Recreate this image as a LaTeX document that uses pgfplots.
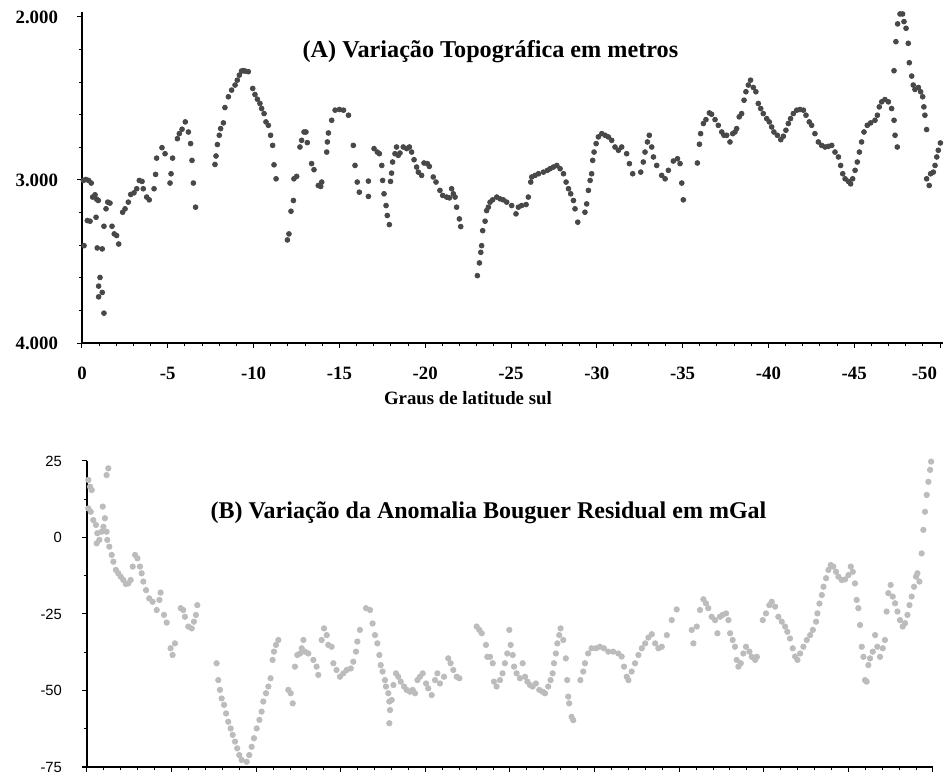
\documentclass[border=0pt]{standalone}
\usepackage{pgfplots}
\pgfplotsset{compat=1.18}
\usepackage{fontspec}
\setmainfont{Liberation Serif}
\newfontfamily\arialfont{Liberation Sans}
\definecolor{topdot}{RGB}{72,72,72}
\definecolor{botdot}{RGB}{188,188,188}
\begin{document}
\begin{tikzpicture}
\path[use as bounding box] (0pt,0pt) rectangle (472pt,-387.5pt);
% ---------------- Panel A ----------------
\begin{axis}[
  at={(41pt,-171.5pt)}, anchor=south west,
  scale only axis, width=430.3pt, height=165.5pt,
  xmin=-50.15, xmax=0, x dir=reverse,
  ymin=1970, ymax=4000, y dir=reverse,
  axis x line*=bottom, axis y line*=left,
  axis line style={line width=1pt,-},
  tick align=outside,
  major tick length=2.5pt, minor tick length=1.5pt,
  tick style={black, line width=0.5pt},
  xtick={0,-5,-10,-15,-20,-25,-30,-35,-40,-45,-50},
  xticklabels={0,-5,-10,-15,-20,-25,-30,-35,-40,-45,{\hbox to 0pt{\hss -50\hskip1.5pt}}},
  ytick={2000,3000,4000},
  yticklabels={{\raisebox{-3pt}{2.000}},3.000,4.000},
  minor x tick num=4, minor y tick num=4,
  ticklabel style={font=\fontsize{9.4}{11}\selectfont\bfseries},
  xticklabel style={yshift=-6pt},
  yticklabel style={xshift=-6pt},
  clip=false,
]
\addplot[only marks, color=topdot, mark=*, mark size=1.2pt, mark options={solid, draw=topdot, fill=topdot}] coordinates {
(-0.08,3003)(-0.23,2997)(-0.39,3003)(-0.54,3019)(-0.12,3403)(-0.31,3249)(-0.47,3253)(-0.62,3105)
(-0.76,3091)(-0.85,3118)(-0.95,3126)(-0.82,3229)(-0.89,3417)(-1.18,3423)(-1.05,3598)(-0.97,3651)
(-1.18,3690)(-0.97,3717)(-1.28,3817)(-1.28,3284)(-1.40,3177)(-1.50,3136)(-1.63,3142)(-1.75,3284)
(-1.88,3331)(-2.02,3341)(-2.14,3393)(-2.37,3198)(-2.51,3177)(-2.70,3136)(-2.84,3089)(-3.03,3079)
(-3.19,3054)(-3.34,3003)(-3.50,3009)(-3.57,3054)(-3.77,3105)(-3.92,3122)(-4.20,3054)(-4.29,2966)
(-4.35,2866)(-4.66,2802)(-4.84,2839)(-5.13,3019)(-5.19,2962)(-5.28,2866)(-5.56,2747)(-5.67,2716)
(-5.83,2689)(-6.02,2644)(-6.20,2706)(-6.33,2777)(-6.41,2880)(-6.49,3019)(-6.62,3167)(-7.75,2905)
(-7.81,2853)(-7.89,2783)(-8.00,2726)(-8.08,2685)(-8.24,2650)(-8.33,2556)(-8.53,2490)(-8.72,2449)
(-8.92,2418)(-9.05,2388)(-9.17,2357)(-9.30,2332)(-9.40,2330)(-9.50,2332)(-9.69,2336)(-9.95,2439)
(-10.08,2476)(-10.22,2505)(-10.37,2531)(-10.47,2562)(-10.61,2593)(-10.72,2644)(-10.86,2665)(-10.99,2726)
(-11.11,2788)(-11.19,2907)(-11.31,2993)(-11.97,3368)(-12.06,3331)(-12.18,3192)(-12.32,3126)(-12.35,2993)
(-12.51,2978)(-12.70,2798)(-12.80,2757)(-12.94,2706)(-13.05,2706)(-13.13,2771)(-13.38,2900)(-13.52,2937)
(-13.77,3034)(-13.91,3040)(-13.97,3013)(-14.26,2829)(-14.30,2767)(-14.36,2712)(-14.55,2634)(-14.75,2572)
(-15.00,2568)(-15.24,2572)(-15.53,2603)(-15.81,2788)(-15.91,2911)(-16.04,3013)(-16.16,3075)(-16.69,3101)
(-16.69,3007)(-17.02,2808)(-17.21,2829)(-17.33,2839)(-17.47,2911)(-17.52,3003)(-17.60,3085)(-17.72,3157)
(-17.79,3218)(-17.91,3274)(-17.98,3009)(-18.04,2958)(-18.10,2890)(-18.24,2839)(-18.33,2798)(-18.43,2849)
(-18.53,2835)(-18.72,2798)(-18.92,2808)(-19.08,2798)(-19.21,2829)(-19.35,2876)(-19.50,2921)(-19.60,2952)
(-19.79,2972)(-19.93,2896)(-20.13,2900)(-20.24,2917)(-20.47,2982)(-20.63,3013)(-20.86,3064)(-21.02,3095)
(-21.25,3105)(-21.41,3110)(-21.54,3054)(-21.64,3085)(-21.74,3105)(-21.83,3167)(-21.99,3239)(-22.07,3286)
(-23.04,3587)(-23.16,3509)(-23.24,3444)(-23.29,3403)(-23.35,3311)(-23.49,3253)(-23.58,3188)(-23.68,3167)
(-23.78,3136)(-23.93,3122)(-24.17,3105)(-24.36,3116)(-24.55,3122)(-24.75,3136)(-25.04,3157)(-25.29,3208)
(-25.43,3167)(-25.62,3157)(-25.88,3151)(-26.01,3105)(-26.15,3013)(-26.21,2982)(-26.40,2972)(-26.60,2962)
(-26.89,2952)(-27.12,2941)(-27.28,2931)(-27.47,2921)(-27.67,2911)(-27.86,2931)(-28.06,2962)(-28.21,3013)
(-28.35,3054)(-28.48,3085)(-28.64,3126)(-28.73,3177)(-28.89,3259)(-29.31,3198)(-29.41,3147)(-29.51,3064)
(-29.61,3003)(-29.70,2962)(-29.76,2880)(-29.84,2829)(-29.96,2777)(-30.09,2736)(-30.29,2716)(-30.48,2726)
(-30.67,2736)(-30.87,2757)(-31.06,2798)(-31.26,2818)(-31.45,2798)(-31.74,2839)(-31.90,2900)(-32.09,2962)
(-32.56,2952)(-32.71,2890)(-32.81,2829)(-32.95,2767)(-33.06,2726)(-33.20,2798)(-33.30,2859)(-33.49,2911)
(-33.78,2972)(-33.98,2993)(-34.17,2941)(-34.46,2884)(-34.70,2870)(-34.85,2900)(-34.95,3019)(-35.04,3122)
(-35.86,2896)(-35.98,2781)(-36.05,2716)(-36.21,2654)(-36.36,2630)(-36.56,2589)(-36.69,2597)(-36.89,2630)
(-37.08,2665)(-37.28,2706)(-37.41,2726)(-37.57,2726)(-37.76,2767)(-37.92,2716)(-38.05,2706)(-38.15,2685)
(-38.30,2613)(-38.44,2593)(-38.58,2511)(-38.69,2459)(-38.83,2418)(-38.96,2388)(-39.12,2433)(-39.27,2459)
(-39.41,2531)(-39.55,2562)(-39.70,2593)(-39.90,2624)(-40.05,2644)(-40.19,2675)(-40.32,2706)(-40.52,2726)
(-40.72,2753)(-40.87,2732)(-41.02,2695)(-41.16,2654)(-41.29,2624)(-41.45,2593)(-41.65,2572)(-41.84,2568)
(-42.04,2572)(-42.19,2603)(-42.38,2644)(-42.52,2665)(-42.71,2716)(-42.91,2767)(-43.10,2788)(-43.30,2798)
(-43.49,2794)(-43.69,2788)(-43.88,2829)(-44.08,2859)(-44.21,2911)(-44.33,2962)(-44.47,2993)(-44.66,3009)
(-44.79,3024)(-44.91,2993)(-45.05,2941)(-45.18,2890)(-45.30,2829)(-45.43,2767)(-45.57,2706)(-45.76,2665)
(-45.96,2650)(-46.21,2634)(-46.35,2603)(-46.46,2552)(-46.60,2521)(-46.79,2507)(-46.99,2521)(-47.18,2562)
(-47.32,2634)(-47.38,2726)(-47.51,2798)(-47.32,2330)(-47.43,2152)(-47.53,2043)(-47.67,1982)(-47.82,1982)
(-47.90,2029)(-48.02,2070)(-48.15,2162)(-48.21,2281)(-48.35,2363)(-48.44,2418)(-48.54,2445)(-48.74,2433)
(-48.87,2459)(-48.99,2490)(-49.06,2552)(-49.12,2603)(-49.22,2691)(-49.22,2993)(-49.37,3034)(-49.45,2962)
(-49.61,2952)(-49.71,2911)(-49.81,2859)(-49.90,2818)(-50.02,2773)
};
\node[font=\fontsize{12.1}{14}\selectfont\bfseries] at (axis cs:-23.8,2215) {(A) Variação Topográfica em metros};
\node[font=\fontsize{9.4}{11}\selectfont\bfseries] at (axis cs:-22.49,4000) [yshift=-27.5pt] {Graus de latitude sul};
\end{axis}
% ---------------- Panel B ----------------
\begin{axis}[
  at={(43.5pt,-383.5pt)}, anchor=south west,
  scale only axis, width=423pt, height=153pt,
  xmin=-50, xmax=0, x dir=reverse,
  ymin=-75, ymax=25,
  axis x line*=bottom, axis y line*=left,
  axis line style={line width=1pt,-},
  tick align=outside,
  major tick length=2.5pt, minor tick length=1.5pt,
  tick style={black, line width=0.5pt},
  xtick={0,-5,-10,-15,-20,-25,-30,-35,-40,-45,-50},
  xticklabels={},
  ytick={25,0,-25,-50,-75},
  yticklabels={25,0,-25,-50,-75},
  minor x tick num=4, minor y tick num=1,
  yticklabel style={font=\arialfont\fontsize{7.4}{9}\selectfont, xshift=-6.5pt},
  clip=false,
]
\addplot[only marks, color=botdot, mark=*, mark size=1.35pt, mark options={solid, draw=botdot, fill=botdot}] coordinates {
(-0.08,18.8)(-0.18,16.6)(-0.28,15.5)(-0.08,9.5)(-0.22,8.4)(-0.37,5.7)(-0.53,4.1)(-0.61,1.4)
(-0.57,-1.9)(-0.73,-0.8)(-0.87,1.9)(-0.97,3.5)(-0.93,10.1)(-1.06,6.3)(-1.16,1.9)(-1.20,-0.8)
(-1.16,20.4)(-1.26,22.6)(-1.32,-3.0)(-1.46,-5.7)(-1.56,-7.9)(-1.71,-10.6)(-1.85,-11.7)(-1.99,-12.8)
(-2.15,-13.9)(-2.30,-15.2)(-2.44,-15.0)(-2.58,-13.9)(-2.70,-9.5)(-2.84,-5.7)(-2.98,-6.8)(-3.13,-9.5)
(-3.23,-11.7)(-3.33,-14.4)(-3.49,-17.2)(-3.68,-19.9)(-3.88,-21.0)(-4.12,-23.7)(-4.28,-20.4)(-4.35,-18.0)
(-4.55,-25.3)(-4.71,-27.8)(-4.94,-36.2)(-5.06,-38.4)(-5.20,-34.6)(-5.54,-23.1)(-5.69,-23.7)(-5.79,-25.9)
(-5.99,-29.1)(-6.19,-29.7)(-6.32,-27.5)(-6.44,-25.3)(-6.52,-22.1)(-7.66,-41.1)(-7.76,-46.6)(-7.86,-49.8)
(-7.96,-52.6)(-8.10,-54.7)(-8.22,-57.5)(-8.35,-60.2)(-8.49,-62.4)(-8.61,-64.5)(-8.75,-66.7)(-8.88,-68.9)
(-9.00,-71.1)(-9.14,-72.7)(-9.44,-73.3)(-9.59,-71.1)(-9.73,-68.4)(-9.87,-65.6)(-10.03,-62.4)(-10.19,-59.6)
(-10.32,-56.9)(-10.42,-53.6)(-10.58,-50.9)(-10.72,-48.7)(-10.85,-46.0)(-10.97,-40.0)(-11.05,-37.3)(-11.17,-35.1)
(-11.31,-33.5)(-11.90,-49.8)(-12.04,-50.9)(-12.16,-54.2)(-12.29,-42.2)(-12.43,-38.4)(-12.59,-37.9)(-12.69,-36.2)
(-12.79,-33.5)(-12.88,-37.3)(-13.08,-37.9)(-13.38,-40.0)(-13.57,-42.2)(-13.67,-44.9)(-13.87,-33.5)(-14.01,-29.7)
(-14.17,-31.9)(-14.26,-35.1)(-14.46,-35.7)(-14.56,-41.1)(-14.75,-43.3)(-14.95,-45.5)(-15.15,-44.4)(-15.35,-43.3)
(-15.59,-42.8)(-15.74,-40.6)(-15.90,-37.3)(-15.98,-34.0)(-16.13,-30.2)(-16.49,-23.1)(-16.73,-23.7)(-16.88,-28.1)
(-17.02,-31.9)(-17.16,-34.6)(-17.28,-38.4)(-17.36,-41.7)(-17.47,-43.8)(-17.61,-46.6)(-17.67,-48.7)(-17.81,-50.9)
(-17.87,-53.6)(-17.91,-56.4)(-17.87,-60.7)(-18.01,-53.1)(-18.11,-48.2)(-18.26,-44.4)(-18.40,-45.5)(-18.54,-47.1)
(-18.74,-48.7)(-18.89,-49.8)(-19.09,-50.4)(-19.25,-49.8)(-19.39,-50.9)(-19.53,-46.6)(-19.68,-45.5)(-19.84,-44.4)
(-20.04,-47.7)(-20.17,-49.3)(-20.37,-51.5)(-20.57,-46.6)(-20.71,-44.4)(-20.86,-47.7)(-21.10,-45.5)(-21.35,-39.5)
(-21.49,-41.1)(-21.65,-43.3)(-21.85,-45.5)(-22.01,-46.0)(-23.03,-29.1)(-23.19,-30.2)(-23.33,-31.3)(-23.58,-35.1)
(-23.66,-39.0)(-23.82,-39.0)(-23.98,-41.1)(-24.05,-47.1)(-24.21,-48.7)(-24.41,-46.6)(-24.56,-44.4)(-24.70,-41.1)
(-24.84,-37.9)(-24.96,-30.2)(-25.04,-35.1)(-25.16,-38.4)(-25.24,-42.2)(-25.39,-44.4)(-25.59,-46.0)(-25.75,-41.1)
(-25.89,-45.5)(-26.03,-47.1)(-26.18,-48.2)(-26.34,-48.7)(-26.53,-47.7)(-26.73,-49.8)(-26.93,-50.4)(-27.07,-50.9)
(-27.26,-48.7)(-27.40,-46.6)(-27.52,-44.4)(-27.60,-41.1)(-27.71,-37.9)(-27.80,-34.6)(-27.91,-31.9)(-27.99,-29.7)
(-28.15,-33.5)(-28.30,-39.5)(-28.38,-46.6)(-28.44,-52.0)(-28.50,-54.2)(-28.64,-58.6)(-28.74,-59.7)(-29.16,-46.6)
(-29.33,-43.8)(-29.43,-41.1)(-29.62,-37.9)(-29.82,-36.2)(-30.08,-36.2)(-30.31,-35.7)(-30.55,-36.2)(-30.81,-37.3)
(-31.10,-37.3)(-31.40,-37.9)(-31.60,-38.9)(-31.74,-42.2)(-31.90,-45.5)(-32.00,-46.6)(-32.19,-43.8)(-32.39,-41.1)
(-32.59,-38.4)(-32.79,-36.2)(-32.99,-34.6)(-33.18,-32.7)(-33.38,-31.6)(-33.58,-34.6)(-33.77,-36.2)(-33.97,-35.7)
(-34.27,-31.9)(-34.56,-27.0)(-34.85,-23.5)(-35.74,-30.2)(-35.84,-34.6)(-36.04,-29.1)(-36.23,-23.7)(-36.43,-20.2)
(-36.58,-21.5)(-36.72,-23.1)(-36.92,-25.9)(-37.12,-27.0)(-37.26,-31.3)(-37.41,-25.9)(-37.57,-25.3)(-37.77,-24.8)
(-37.91,-27.0)(-38.01,-31.3)(-38.16,-33.5)(-38.30,-35.7)(-38.40,-40.0)(-38.50,-42.2)(-38.64,-41.1)(-38.79,-37.9)
(-38.95,-35.7)(-39.15,-37.3)(-39.29,-39.0)(-39.49,-40.0)(-39.59,-39.0)(-39.94,-27.0)(-40.13,-24.8)(-40.33,-22.1)
(-40.47,-21.0)(-40.67,-22.6)(-40.86,-25.9)(-41.06,-27.5)(-41.26,-29.1)(-41.39,-30.8)(-41.55,-33.0)(-41.71,-36.2)
(-41.85,-38.9)(-41.99,-40.0)(-42.15,-37.9)(-42.34,-35.7)(-42.54,-33.5)(-42.74,-31.9)(-42.90,-30.2)(-43.09,-27.5)
(-43.17,-24.8)(-43.29,-21.6)(-43.43,-18.8)(-43.53,-16.1)(-43.68,-13.3)(-43.82,-10.6)(-43.96,-9.0)(-44.11,-9.5)
(-44.27,-11.2)(-44.41,-12.8)(-44.61,-13.9)(-44.80,-13.7)(-45.00,-12.3)(-45.14,-9.5)(-45.26,-11.2)(-45.39,-15.0)
(-45.49,-20.4)(-45.59,-23.1)(-45.69,-28.6)(-45.79,-35.7)(-45.89,-39.0)(-45.98,-46.6)(-46.08,-47.1)(-46.18,-41.7)
(-46.28,-39.5)(-46.44,-37.3)(-46.58,-31.9)(-46.71,-35.7)(-46.87,-39.0)(-47.03,-36.2)(-47.16,-33.5)(-47.26,-24.2)
(-47.36,-18.2)(-47.50,-15.5)(-47.62,-19.3)(-47.76,-21.5)(-47.90,-24.2)(-48.05,-27.0)(-48.21,-29.1)(-48.35,-28.0)
(-48.49,-25.3)(-48.61,-22.1)(-48.74,-19.3)(-48.88,-16.1)(-49.00,-12.8)(-49.08,-11.7)(-49.20,-14.4)(-49.33,-5.2)
(-49.43,2.5)(-49.53,8.4)(-49.63,13.9)(-49.73,18.2)(-49.83,22.1)(-49.89,24.8)
};
\node[font=\fontsize{12.0}{14}\selectfont\bfseries] at (axis cs:-23.73,8.0) {(B) Variação da Anomalia Bouguer Residual em mGal};
\end{axis}
\end{tikzpicture}
\end{document}
